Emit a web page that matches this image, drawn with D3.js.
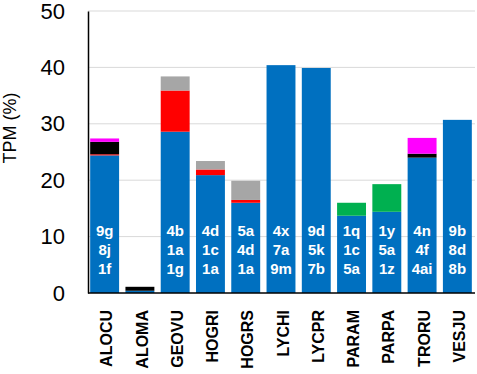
<!DOCTYPE html>
<html>
<head>
<meta charset="utf-8">
<script src="https://cdn.jsdelivr.net/npm/d3@7"></script>
<style>
  body { margin: 0; background: #fff; }
  text { font-family: Arial, "Liberation Sans", sans-serif; }
</style>
</head>
<body>
<script>
const categories = ["ALOCU","ALOMA","GEOVU","HOGRI","HOGRS","LYCHI","LYCPR","PARAM","PARPA","TRORU","VESJU"];
const blue    = [24.4, 0.4, 28.6, 20.9, 16.0, 40.4, 39.9, 13.7, 14.4, 24.0, 30.7];
const red     = [0.2,  0,   7.3,  1.0,  0.5,  0,    0,    0,    0,    0,    0];
const black   = [2.2,  0.7, 0,    0,    0,    0,    0,    0,    0,    0.7,  0];
const gray    = [0,    0,   2.5,  1.5,  3.4,  0,    0,    0,    0,    0,    0];
const green   = [0,    0,   0,    0,    0,    0,    0,    2.3,  4.9,  0,    0];
const magenta = [0.6,  0,   0,    0,    0,    0,    0,    0,    0,    2.8,  0];
const barLabels = [["9g","8j","1f"], [], ["4b","1a","1g"], ["4d","1c","1a"], ["5a","4d","1a"],
  ["4x","7a","9m"], ["9d","5k","7b"], ["1q","1c","5a"], ["1y","5a","1z"], ["4n","4f","4ai"], ["9b","8d","8b"]];
const yTicks = [0, 10, 20, 30, 40, 50];

const series = [
  {key: "blue", values: blue, color: "#0070C0"},
  {key: "red", values: red, color: "#FF0000"},
  {key: "black", values: black, color: "#000000"},
  {key: "gray", values: gray, color: "#A6A6A6"},
  {key: "green", values: green, color: "#00B050"},
  {key: "magenta", values: magenta, color: "#FF00FF"}
];

const data = categories.map((c, i) => {
  const row = {cat: c};
  series.forEach(s => row[s.key] = s.values[i]);
  return row;
});

const W = 477, H = 374;
const svg = d3.select("body").append("svg")
  .attr("width", W).attr("height", H);

const x = d3.scaleBand()
  .domain(categories)
  .range([87, 475])
  .paddingInner(0.18)
  .paddingOuter(0.09);

const y = d3.scaleLinear()
  .domain([0, 50])
  .range([293, 11]);

// gridlines
svg.append("g")
  .selectAll("line")
  .data(yTicks.filter(d => d > 0))
  .enter().append("line")
  .attr("x1", 88).attr("x2", 475)
  .attr("y1", d => y(d)).attr("y2", d => y(d))
  .attr("stroke", "#d9d9d9").attr("stroke-width", 1);

// stacked bars
const stack = d3.stack().keys(series.map(s => s.key));
const layers = stack(data);
const colorOf = {};
series.forEach(s => colorOf[s.key] = s.color);

svg.append("g")
  .selectAll("g")
  .data(layers)
  .enter().append("g")
  .attr("fill", d => colorOf[d.key])
  .selectAll("rect")
  .data(d => d.filter(p => p[1] - p[0] > 0))
  .enter().append("rect")
  .attr("x", d => x(d.data.cat))
  .attr("y", d => y(d[1]))
  .attr("width", x.bandwidth())
  .attr("height", d => y(d[0]) - y(d[1]));

// labels inside bars
categories.forEach((c, i) => {
  barLabels[i].forEach((t, j) => {
    svg.append("text")
      .attr("x", x(c) + x.bandwidth() / 2)
      .attr("y", 231 + j * 19)
      .attr("dy", "0.35em")
      .attr("text-anchor", "middle")
      .attr("fill", "#fff")
      .attr("font-weight", "bold")
      .attr("font-size", 15)
      .text(t);
  });
});

// y axis
const yAxis = svg.append("g")
  .attr("transform", "translate(88,0)")
  .call(d3.axisLeft(y).tickValues(yTicks).tickSize(0).tickPadding(23));
yAxis.select(".domain").attr("stroke", "#000").attr("stroke-width", 1.5);
yAxis.selectAll("text").attr("font-size", 22).attr("fill", "#000")
  .attr("font-family", "Arial, 'Liberation Sans', sans-serif");

// x axis
const xAxis = svg.append("g")
  .attr("transform", "translate(0,293)")
  .call(d3.axisBottom(x).tickSize(0).tickPadding(0));
xAxis.select(".domain").attr("stroke", "#000").attr("stroke-width", 1.5)
  .attr("d", "M88,0H475");
xAxis.selectAll("text")
  .attr("font-size", 16).attr("font-weight", "bold").attr("fill", "#000")
  .attr("font-family", "Arial, 'Liberation Sans', sans-serif")
  .attr("text-anchor", "end")
  .attr("transform", "rotate(-90)")
  .attr("x", -17).attr("y", 2).attr("dy", "0.35em");

// y title
svg.append("text")
  .attr("transform", "translate(10,128) rotate(-90)")
  .attr("text-anchor", "middle")
  .attr("dy", "0.35em")
  .attr("font-size", 18)
  .text("TPM (%)");
</script>
</body>
</html>
